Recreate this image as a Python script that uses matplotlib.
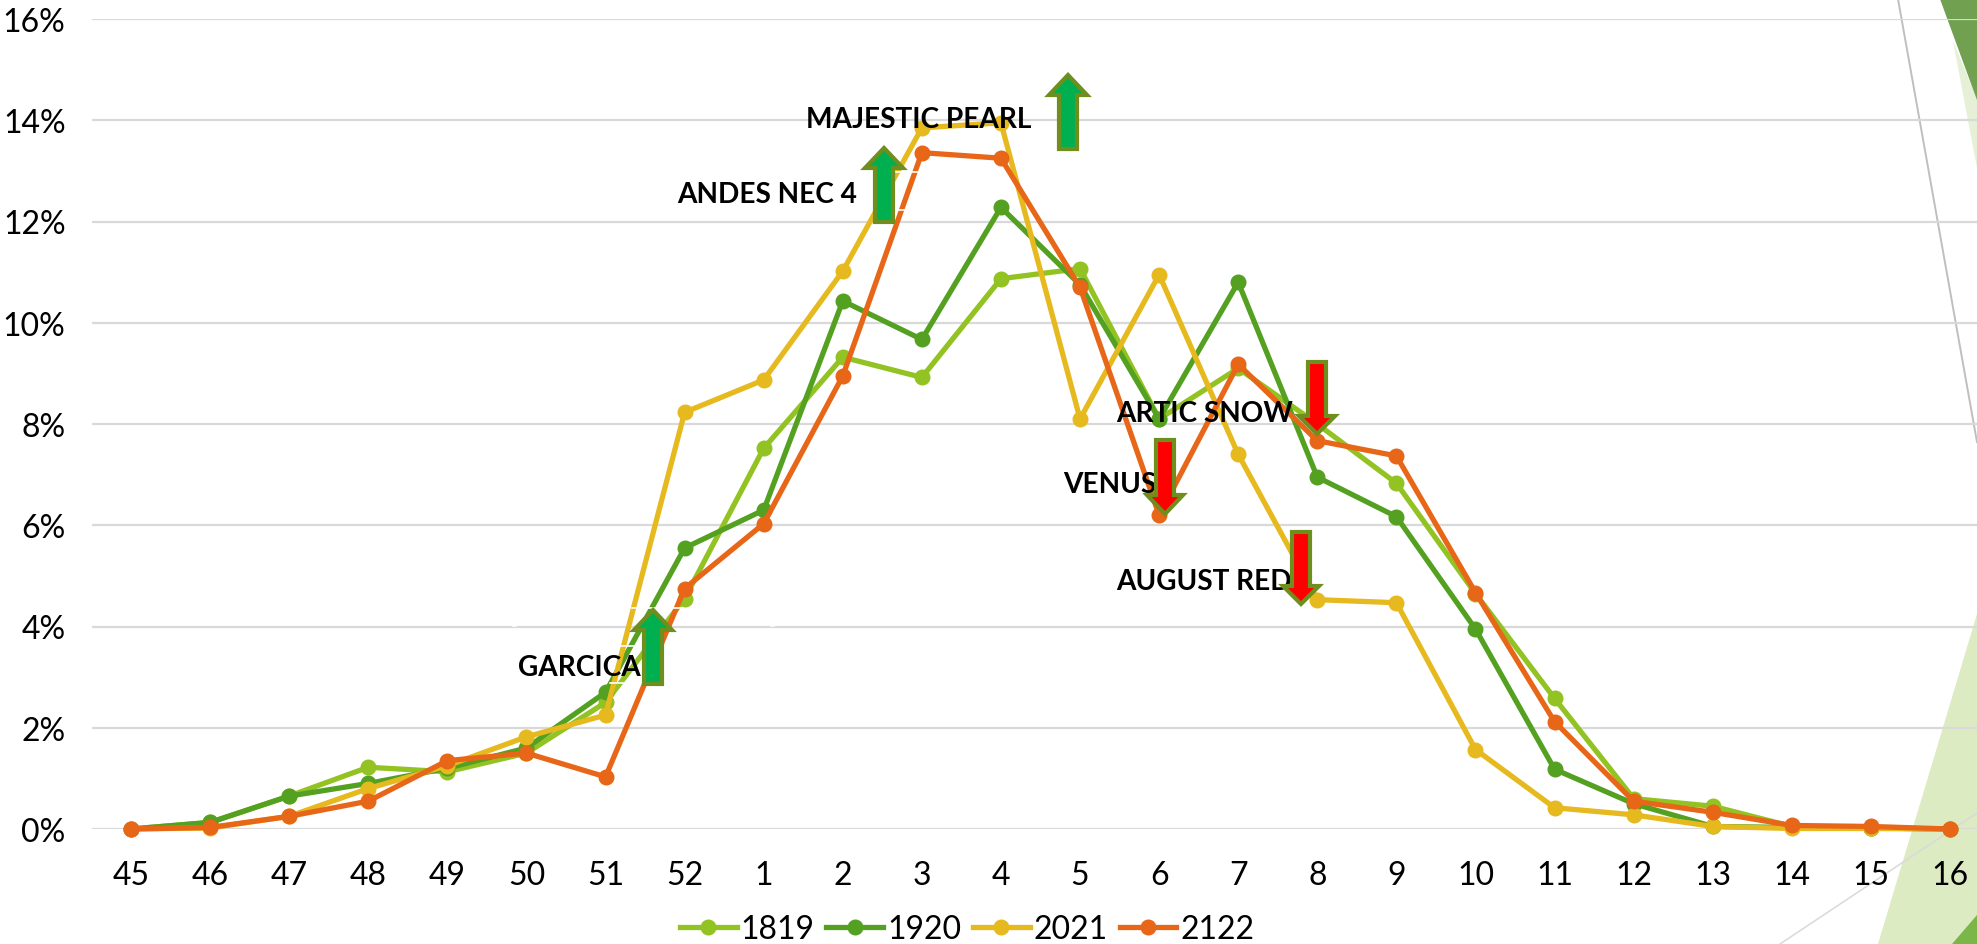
import matplotlib
matplotlib.use("Agg")
from matplotlib import pyplot as plt
from matplotlib.patches import Polygon
from matplotlib.lines import Line2D

W, H = 1977, 945

semaines = ["45","46","47","48","49","50","51","52","1","2","3","4","5","6","7","8","9","10","11","12","13","14","15","16"]
s1819 = [0,0.13,0.65,1.22,1.13,1.5,2.5,4.55,7.52,9.32,8.92,10.87,11.07,8.1,9.1,8.0,6.83,4.65,2.58,0.6,0.45,0.05,0.02,0]
s1920 = [0,0.13,0.65,0.9,1.2,1.6,2.7,5.55,6.3,10.43,9.67,12.28,10.75,8.1,10.8,6.95,6.17,3.95,1.18,0.5,0.05,0.03,0.02,0]
s2021 = [0,0.02,0.25,0.8,1.25,1.82,2.25,8.23,8.87,11.02,13.85,13.95,8.1,10.95,7.4,4.53,4.47,1.57,0.42,0.28,0.05,0.01,0.01,0]
s2122 = [0,0.03,0.25,0.55,1.35,1.5,1.03,4.75,6.03,8.95,13.36,13.25,10.7,6.2,9.18,7.67,7.37,4.67,2.12,0.55,0.33,0.07,0.05,0]

labels = ["GARCICA","ANDES NEC 4","MAJESTIC PEARL","ARTIC SNOW","VENUS","AUGUST RED"]

plt.rcParams["font.family"] = ["Lato","DejaVu Sans"]

fig = plt.figure(figsize=(W/100,H/100),dpi=100)

# tout en pixels de l'image, y vers le bas
def px(x,y):
    return (x/W,1-y/H)

def forme(points,color,z=-1):
    fig.add_artist(Polygon([px(*p) for p in points],closed=True,transform=fig.transFigure,facecolor=color,edgecolor="none",zorder=z))

def trait(a,b,color,lw,z=-1):
    fig.add_artist(Line2D([px(*a)[0],px(*b)[0]],[px(*a)[1],px(*b)[1]],transform=fig.transFigure,color=color,lw=lw,zorder=z))

# decor du theme a droite
forme([(1878,945),(1977,615),(1977,945)],"#DDEBC3")
forme([(1952,945),(1977,916),(1977,945)],"#7AB648")
forme([(1953,42),(1977,100),(1977,169)],"#E6F0D6")
forme([(1940,0),(1977,0),(1977,101)],"#70A050")
trait((1898,0),(1977,443),"#BFBFBF",1.4)
trait((1780,945),(1977,814),"#D9D9D9",1.1)

x0 = 131
pas = (1950-131)/23
y0, y16 = 830, 20
ax = fig.add_axes([92/W,1-y0/H,(W-92)/W,(y0-y16)/H])
ax.patch.set_alpha(0)
ax.set_xlim((92-x0)/pas,(W-x0)/pas)
ax.set_ylim(0,16)

t = list(range(len(semaines)))
ax.plot(t,s1819,color="#92C323",lw=3.8,marker="o",ms=10.5,label="1819",clip_on=False,zorder=3)
ax.plot(t,s1920,color="#54A021",lw=3.8,marker="o",ms=10.5,label="1920",clip_on=False,zorder=3.1)
ax.plot(t,s2021,color="#E6B91E",lw=3.8,marker="o",ms=10.5,label="2021",clip_on=False,zorder=3.2)
ax.plot(t,s2122,color="#E76618",lw=3.8,marker="o",ms=10.5,label="2122",clip_on=False,zorder=3.3)

ax.set_yticks(range(0,17,2))
ax.set_yticklabels([str(v)+"%" for v in range(0,17,2)],fontsize=23)
ax.set_xticks(t)
ax.set_xticklabels(semaines,fontsize=23)
ax.tick_params(length=0)
ax.tick_params(axis="x",pad=22)
ax.tick_params(axis="y",pad=19)
ax.grid(axis="y",color="#D9D9D9",lw=1.6,zorder=1)
ax.set_axisbelow(True)
for s in ax.spines.values():
    s.set_visible(False)

fig.legend(loc="center",bbox_to_anchor=(967/W,1-930/H),ncol=4,frameon=False,fontsize=23,
           handlelength=1.78,handletextpad=0.12,columnspacing=0.37,borderpad=0)

# petites coupures blanches sur les courbes, comme dans l'original
for a,b in [((632,609),(683,609)),((620,647),(665,647)),((610,684),(625,684)),
            ((896,173),(919,173)),((898,211),(908,211)),((513,627),(516,627)),((771,627),(774,627))]:
    trait(a,b,"white",1.2,z=3.5)

# etiquettes : gauche, ligne de base
pos_labels = [(518,676),(677,203),(806,128),(1116,422),(1063,493),(1116,590)]
for lab,(x,y) in zip(labels,pos_labels):
    fx,fy = px(x,y)
    fig.text(fx,fy,lab,fontsize=20.2,fontweight="bold",ha="left",va="baseline",color="black",zorder=4)

def fleche(xc,pointe,base_tete,fond,demi_tete,demi_corps,color):
    pts = [(xc,pointe),(xc+demi_tete,base_tete),(xc+demi_corps,base_tete),(xc+demi_corps,fond),
           (xc-demi_corps,fond),(xc-demi_corps,base_tete),(xc-demi_tete,base_tete)]
    fig.add_artist(Polygon([px(*p) for p in pts],closed=True,transform=fig.transFigure,
                           facecolor=color,edgecolor="#6E8E1E",lw=3,joinstyle="miter",zorder=5))

fleche(653,611,631,685,19,9,"#00B050")
fleche(884,149,169,223,19,9,"#00B050")
fleche(1068,76,96,150,19,9,"#00B050")
fleche(1317,435,417,363,18,9,"#FF0000")
fleche(1165,515,496,441,18,9,"#FF0000")
fleche(1301,605,587,533,18,9,"#FF0000")

fig.savefig("out.png",dpi=100)
